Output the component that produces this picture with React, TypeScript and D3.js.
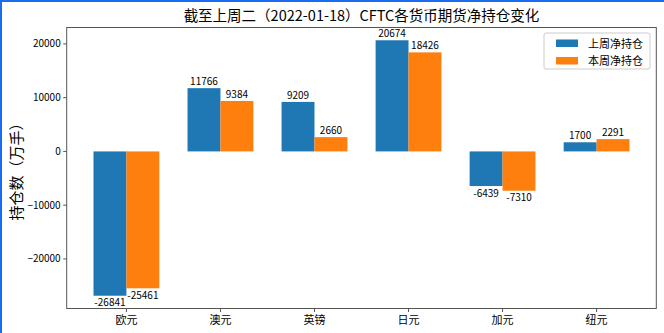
import React from "react";
import * as d3 from "d3";

const categories = ["欧元", "澳元", "英镑", "日元", "加元", "纽元"];
const lastWeek = [-26841, 11766, 9209, 20674, -6439, 1700];
const thisWeek = [-25461, 9384, 2660, 18426, -7310, 2291];
const seriesNames = ["上周净持仓", "本周净持仓"];
const yTicks = [-20000, -10000, 0, 10000, 20000];
const title = "截至上周二（2022-01-18）CFTC各货币期货净持仓变化";
const yLabel = "持仓数（万手）";

const W = 664;
const H = 333;
const L = 66.7, R = 656.3, T = 27.5, B = 308.5;
const BLUE = "#1f77b4";
const ORANGE = "#ff7f0e";
const FONT = "'Noto Sans CJK SC', 'Noto Sans', sans-serif";

export default function App() {
  const all = [...lastWeek, ...thisWeek];
  const dMin = Math.min(0, d3.min(all)!);
  const dMax = Math.max(0, d3.max(all)!);
  const pad = (dMax - dMin) * 0.05;
  const y = d3.scaleLinear().domain([dMin - pad, dMax + pad]).range([B, T]);
  const bw = 0.35;
  const xs = 0.35 + 0.35 + (categories.length - 1);
  const xm = xs * 0.05;
  const x = d3.scaleLinear().domain([-bw - xm, categories.length - 1 + bw + xm]).range([L, R]);
  const y0 = y(0);
  const series = [lastWeek, thisWeek];
  const colors = [BLUE, ORANGE];

  return (
    <svg width={W} height={H} style={{ position: "absolute", left: 0, top: 0, background: "#fff" }} fontFamily={FONT}>
      <rect x={0} y={0} width={W} height={H} fill="#fff" />
      {series.map((vals, s) =>
        vals.map((v, i) => {
          const x0 = x(i + (s === 0 ? -bw : 0));
          const x1 = x(i + (s === 0 ? 0 : bw));
          const yv = y(v);
          return (
            <rect key={`b${s}-${i}`} x={x0} y={Math.min(yv, y0)} width={x1 - x0} height={Math.abs(yv - y0)} fill={colors[s]} />
          );
        })
      )}
      {series.map((vals, s) =>
        vals.map((v, i) => {
          const cx = x(i + (s === 0 ? -bw / 2 : bw / 2));
          const yv = y(v);
          return (
            <text key={`l${s}-${i}`} x={cx} y={v >= 0 ? yv - 3 : yv + 10.5} textAnchor="middle" fontSize={10} fill="#000">
              {v}
            </text>
          );
        })
      )}
      {/* spines */}
      <rect x={L} y={T} width={R - L} height={B - T} fill="none" stroke="#555" strokeWidth={1} />
      {/* y ticks */}
      {yTicks.map((t) => (
        <g key={`yt${t}`}>
          <line x1={L - 3.5} x2={L} y1={y(t)} y2={y(t)} stroke="#555" />
          <text x={L - 6} y={y(t) + 3.5} textAnchor="end" fontSize={10} fill="#000">
            {t < 0 ? "\u2212" + Math.abs(t) : t}
          </text>
        </g>
      ))}
      {/* x ticks */}
      {categories.map((c, i) => (
        <g key={`xt${i}`}>
          <line x1={x(i)} x2={x(i)} y1={B} y2={B + 3.5} stroke="#555" />
          <text x={x(i)} y={B + 15} textAnchor="middle" fontSize={11} fill="#000">
            {c}
          </text>
        </g>
      ))}
      {/* y label */}
      <text transform={`translate(22, ${(T + B) / 2}) rotate(-90)`} textAnchor="middle" fontSize={15} fill="#000">
        {yLabel}
      </text>
      {/* title */}
      <text x={(L + R) / 2} y={21} textAnchor="middle" fontSize={14.5} fill="#000">
        {title}
      </text>
      {/* legend */}
      <rect x={544} y={33} width={106} height={36} rx={2} fill="#fff" stroke="#ccc" strokeWidth={1} />
      {seriesNames.map((n, k) => (
        <g key={`lg${k}`}>
          <rect x={556} y={39.5 + k * 17.5} width={22} height={7.5} fill={colors[k]} />
          <text x={588} y={47.5 + k * 17.5} fontSize={11} fill="#000">
            {n}
          </text>
        </g>
      ))}
      {/* blue frame */}
      <rect x={0} y={0} width={2} height={H} fill="#1a6cf0" />
      <rect x={0} y={0} width={W} height={2} fill="#1a6cf0" />
    </svg>
  );
}
